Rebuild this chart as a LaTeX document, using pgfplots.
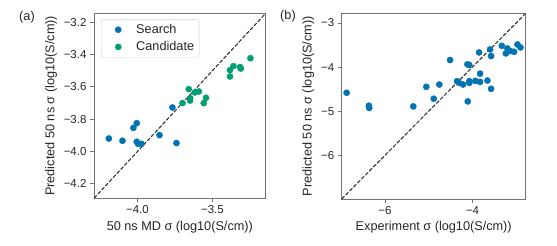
\documentclass[border=0pt]{standalone}
\usepackage{fontspec}
\setmainfont{Liberation Sans}
\usepackage{pgfplots}
\pgfplotsset{compat=1.18}
\definecolor{cbblue}{HTML}{0173B2}
\definecolor{cbgreen}{HTML}{029E73}
\definecolor{txt}{HTML}{262626}
\pgfplotsset{
  myax/.style={
    scale only axis,
    axis line style={black!55, line width=0.8bp},
    tick pos=left,
    tick align=outside,
    major tick length=4bp,
    every tick/.style={black!55, line width=0.8bp},
    tick label style={font=\fontsize{11.5bp}{13bp}\selectfont, text=txt},
    label style={font=\fontsize{12.7bp}{15bp}\selectfont, text=txt},
    clip=true,
  },
  bluem/.style={only marks, mark=*, mark size=3.1bp, draw=cbblue, fill=cbblue},
  greenm/.style={only marks, mark=*, mark size=3.1bp, draw=cbgreen, fill=cbgreen},
}
\begin{document}
\begin{tikzpicture}
\path[use as bounding box] (0bp,0bp) rectangle (557bp,246bp);
\begin{axis}[myax,
  at={(94bp,47.7bp)}, anchor=south west,
  width=171.7bp, height=185bp,
  xmin=-4.29, xmax=-3.145, ymin=-4.29, ymax=-3.145,
  xtick={-4.0,-3.5}, xticklabels={−4.0,−3.5},
  ytick={-4.2,-4.0,-3.8,-3.6,-3.4,-3.2},
  yticklabels={−4.2,−4.0,−3.8,−3.6,−3.4,−3.2},
  xlabel={50 ns MD σ (log10(S/cm))},
  ylabel={Predicted 50 ns σ (log10(S/cm))},
  legend style={at={(0.041,0.968)}, anchor=north west, draw=black!18, rounded corners=2.5bp,
    font=\fontsize{12.7bp}{15bp}\selectfont, text=txt, row sep=2.5bp, inner xsep=3bp, inner ysep=3bp},
  legend cell align=left,
  legend image code/.code={\path[draw=none, fill=none] (0bp,-3bp) rectangle (30bp,3bp); \draw[#1] plot coordinates {(14bp,0bp)};},
]
\addplot[black!85, line width=1bp, dash pattern=on 3.9bp off 1.7bp, forget plot] coordinates {(-4.29,-4.29) (-3.145,-3.145)};
\addplot[bluem] coordinates {
(-4.191,-3.920) (-4.100,-3.934) (-4.027,-3.854) (-4.005,-3.825) (-4.005,-3.940)
(-3.996,-3.953) (-3.973,-3.953) (-3.853,-3.899) (-3.767,-3.728) (-3.740,-3.948)
};
\addlegendentry{Search}
\addplot[greenm] coordinates {
(-3.700,-3.701) (-3.658,-3.614) (-3.649,-3.670) (-3.649,-3.685) (-3.618,-3.635)
(-3.591,-3.629) (-3.558,-3.701) (-3.543,-3.668) (-3.383,-3.497) (-3.383,-3.536)
(-3.360,-3.472) (-3.316,-3.478) (-3.311,-3.487) (-3.247,-3.423)
};
\addlegendentry{Candidate}
\end{axis}
\begin{axis}[myax,
  at={(341.7bp,47bp)}, anchor=south west,
  width=184bp, height=185.7bp,
  xmin=-6.99, xmax=-2.78, ymin=-6.99, ymax=-2.78,
  xtick={-6,-4}, xticklabels={−6,−4},
  ytick={-6,-5,-4,-3}, yticklabels={−6,−5,−4,−3},
  xlabel={Experiment σ (log10(S/cm))},
  ylabel={Predicted 50 ns σ (log10(S/cm))},
]
\addplot[black!85, line width=1bp, dash pattern=on 3.9bp off 1.7bp] coordinates {(-6.99,-6.99) (-2.78,-2.78)};
\addplot[bluem] coordinates {
(-6.877,-4.582) (-6.367,-4.875) (-6.360,-4.927) (-5.352,-4.891) (-5.054,-4.447)
(-4.884,-4.717) (-4.756,-4.395) (-4.511,-3.840) (-4.350,-4.319) (-4.305,-4.357)
(-4.213,-4.395) (-4.114,-3.937) (-4.069,-3.952) (-4.106,-4.778) (-4.069,-4.319)
(-4.069,-4.357) (-3.931,-4.312) (-3.824,-4.148) (-3.824,-4.335) (-3.847,-3.667)
(-3.656,-4.305) (-3.572,-4.492) (-3.595,-3.599) (-3.572,-3.750) (-3.327,-3.518)
(-3.235,-3.689) (-3.198,-3.577) (-3.129,-3.637) (-3.045,-3.653) (-2.969,-3.486)
(-2.900,-3.554)
};
\end{axis}
\node[anchor=center, font=\fontsize{12.7bp}{15bp}\selectfont, text=txt] at (27bp,229bp) {(a)};
\node[anchor=center, font=\fontsize{12.7bp}{15bp}\selectfont, text=txt] at (288bp,230bp) {(b)};
\end{tikzpicture}
\end{document}
